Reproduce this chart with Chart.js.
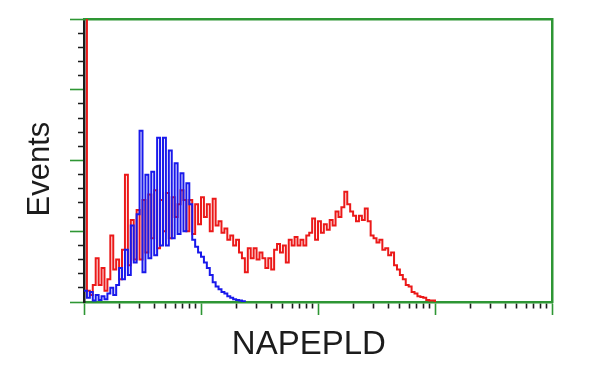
<!DOCTYPE html>
<html><head><meta charset="utf-8">
<script src="https://cdn.jsdelivr.net/npm/chart.js@4.4.1/dist/chart.umd.min.js"></script>
<style>html,body{margin:0;padding:0;background:#fff;}canvas{display:block;}</style>
</head><body>
<canvas id="c" width="600" height="375"></canvas>
<script>
// histogram channels: 40 bins per decade on a 4-decade log axis
const binsPerDecade = 40;
const redCounts = [260, 8, 5, 12, 31, 12, 24, 8, 16, 47,
  23, 30, 16, 37, 90, 26, 58, 30, 65, 30,
  72, 35, 76, 45, 79, 38, 72, 50, 77, 45,
  74, 60, 69, 79, 72, 50, 72, 48, 69, 55,
  74, 60, 69, 50, 73, 54, 57, 49, 52, 44,
  47, 40, 44, 35, 31, 21, 38, 31, 38, 30,
  35, 31, 24, 31, 23, 37, 41, 35, 40, 28,
  44, 40, 46, 40, 44, 40, 47, 49, 59, 44,
  57, 49, 55, 51, 58, 54, 64, 60, 67, 78,
  69, 64, 61, 57, 61, 58, 66, 57, 47, 45,
  42, 44, 37, 38, 33, 35, 26, 23, 19, 16,
  12, 11, 7, 6, 4, 3.5, 3, 1.5, 1, 1, 0];
const blueCounts = [8, 3, 7, 1, 5, 1.5, 4, 2, 6, 10,
  5, 12, 24, 16, 37, 19, 54, 28, 62, 121,
  21, 90, 31, 92, 33, 116, 40, 116, 40, 107,
  45, 98, 48, 91, 50, 84, 69, 44, 39, 35,
  32, 28, 24, 19, 14, 11, 9, 7, 6, 4,
  3, 2, 1.5, 1, 0.5, 0];
const xTitle = 'NAPEPLD';
const yTitle = 'Events';
const xDecades = [1, 10, 100, 1000, 10000];
const xMinorSteps = [2, 3, 4, 5, 6, 7, 8, 9];
const yMax = 200, yMinorStep = 10, yMajorStep = 50;

const GREEN = 'rgb(46,150,52)';
const INK = '#1c1c1c';

const binValue = i => Math.pow(10, i / binsPerDecade);
const toPoints = arr => arr.map((v, i) => ({x: binValue(i), y: v}));
const xTicks = [];
xDecades.forEach((d, k) => {
  xTicks.push(d);
  if (k < xDecades.length - 1) xMinorSteps.forEach(m => xTicks.push(d * m));
});
const isMajorX = v => xDecades.some(d => Math.abs(v - d) < 1e-6 * d);
const isMajorY = v => Math.abs(v % yMajorStep) < 1e-6;

Chart.defaults.font.family = "'Liberation Sans', Arial, Helvetica, sans-serif";

new Chart(document.getElementById('c'), {
  type: 'line',
  data: {
    datasets: [
      {data: toPoints(blueCounts), borderColor: 'rgb(25,25,235)', borderWidth: 2,
       pointRadius: 0, stepped: true, fill: false, tension: 0},
      {data: toPoints(redCounts), borderColor: 'rgb(235,25,25)', borderWidth: 2,
       pointRadius: 0, stepped: true, fill: false, tension: 0}
    ]
  },
  options: {
    responsive: false,
    animation: false,
    devicePixelRatio: 1,
    layout: {padding: {top: 19, right: 48, bottom: 0, left: 0}},
    plugins: {legend: {display: false}, tooltip: {enabled: false}},
    scales: {
      x: {
        type: 'logarithmic', position: 'bottom', min: 1, max: 10000,
        afterBuildTicks: s => { s.ticks = xTicks.map(v => ({value: v})); },
        afterFit: s => { s.height = 73; },
        ticks: {display: false, autoSkip: false},
        border: {display: true, color: GREEN, width: 2.5},
        grid: {
          drawOnChartArea: false, drawTicks: true, tickLength: 13,
          tickWidth: 1.6,
          tickColor: c => isMajorX(c.tick.value) ? GREEN : INK,
          tickBorderDash: c => isMajorX(c.tick.value) ? [] : [5, 100]
        },
        title: {display: true, text: xTitle + '  ', color: INK,
          font: {size: 33}, padding: {top: 0, bottom: 10}}
      },
      y: {
        type: 'linear', position: 'left', min: 0, max: yMax,
        afterFit: s => { s.width = 84; },
        ticks: {display: false, stepSize: yMinorStep, autoSkip: false},
        border: {display: true, color: INK, width: 2.5},
        grid: {
          drawOnChartArea: false, drawTicks: true, tickLength: 14,
          tickWidth: 1.6,
          tickColor: c => isMajorY(c.tick.value) ? GREEN : INK,
          tickBorderDash: c => isMajorY(c.tick.value) ? [] : [0, 8, 5, 100]
        },
        title: {display: true, text: yTitle + '  ', color: INK,
          font: {size: 31}, padding: {top: 22, bottom: 0}}
      },
      xTop: {
        type: 'linear', position: 'top', min: 0, max: 1,
        afterFit: s => { s.height = 0; },
        ticks: {display: false},
        grid: {display: false},
        border: {display: true, color: GREEN, width: 2.5}
      },
      yRight: {
        type: 'linear', position: 'right', min: 0, max: 1,
        afterFit: s => { s.width = 0; },
        ticks: {display: false},
        grid: {display: false},
        border: {display: true, color: GREEN, width: 2.5}
      }
    }
  }
});
</script>
</body></html>
